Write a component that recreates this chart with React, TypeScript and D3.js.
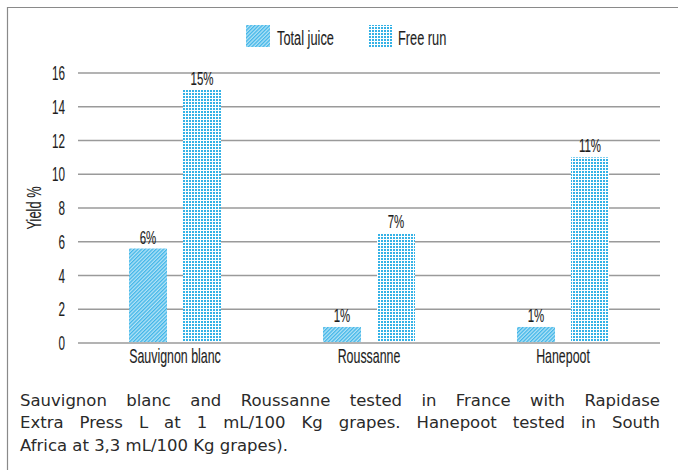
import React, { useMemo } from "react";
import * as d3 from "d3";

const categories = ["Sauvignon blanc", "Roussanne", "Hanepoot"];
const series = ["Total juice", "Free run"];
const totalJuice = [5.6, 0.95, 0.95];
const freeRun = [15.0, 6.5, 11.0];
const totalLabels = ["6%", "1%", "1%"];
const freeLabels = ["15%", "7%", "11%"];
const yTicks = [0, 2, 4, 6, 8, 10, 12, 14, 16];
const captionLines = [
  "Sauvignon blanc and Roussanne tested in France with Rapidase",
  "Extra Press L at 1 mL/100 Kg grapes. Hanepoot tested in South",
  "Africa at 3,3 mL/100 Kg grapes).",
];

const W = 678;
const H = 470;
const labelFont = "'Liberation Sans', Arial, sans-serif";
const captionFont = "'DejaVu Sans', sans-serif";
const blue = "#35b2e6";

// condensed text: the reference uses a narrow face, so squeeze a regular one
const CText = ({ x, y, size, anchor = "start", sx = 0.64, children }: any) => (
  <text transform={`translate(${x},${y}) scale(${sx},1)`} textAnchor={anchor}
    fontFamily={labelFont} fontSize={size} fill="#1e1e1e" stroke="#1e1e1e" strokeWidth={0.12}>{children}</text>
);

const App = () => {
  const margin = { left: 78, right: 18, top: 73, bottom: 127 };
  const plotRight = W - margin.right;
  const plotBottom = H - margin.bottom;

  const x = d3.scaleBand().domain(categories).range([margin.left, plotRight]);
  const xSub = d3.scaleBand().domain(series).range([0, 92]).paddingInner(0.296);
  const y = d3.scaleLinear().domain([0, 16]).range([plotBottom, margin.top]);

  const capSize = 16.5;
  const capLeft = 20;
  const capRight = 660;

  // justify caption lines by measuring words
  const caption = useMemo(() => {
    const ctx = document.createElement("canvas").getContext("2d");
    ctx.font = `${capSize}px ${captionFont}`;
    return captionLines.map((line, i) => {
      const words = line.split(" ");
      const widths = words.map(w => ctx.measureText(w).width);
      const total = d3.sum(widths);
      const isLast = i === captionLines.length - 1;
      const gap = isLast ? ctx.measureText(" ").width : (capRight - capLeft - total) / (words.length - 1);
      let cx = capLeft;
      return words.map((w, j) => {
        const pos = cx;
        cx += widths[j] + gap;
        return { w, x: pos };
      });
    });
  }, []);

  const groupX = (c: string) => x(c)! + x.bandwidth() / 2 - 46;

  return (
    <svg width={W} height={H} style={{ position: "absolute", left: 0, top: 0 }}>
      <defs>
        <pattern id="hatch" width="2.6" height="2.6" patternUnits="userSpaceOnUse" patternTransform="rotate(45)">
          <rect width="2.6" height="2.6" fill="#b5e3f6" />
          <rect width="1.3" height="2.6" fill="#3fb5e8" />
        </pattern>
        <pattern id="dots" width="3" height="3" patternUnits="userSpaceOnUse">
          <rect width="3" height="3" fill="#ffffff" />
          <rect width="2" height="2" fill={blue} />
        </pattern>
      </defs>
      <rect width={W} height={H} fill="#fff" />
      {/* frame */}
      <path d={`M7.5,${H} V7.5 H${W}`} fill="none" stroke="#8a8a8a" strokeWidth={1.2} />

      {/* legend */}
      <rect x={246} y={25} width={24} height={22} fill="url(#hatch)" />
      <CText x={277} y={45} size={20}>{series[0]}</CText>
      <rect x={368} y={25} width={24} height={22} fill="url(#dots)" />
      <CText x={398} y={45} size={20}>{series[1]}</CText>

      {/* grid */}
      {yTicks.map(t => (
        <g key={t}>
          <line x1={margin.left} x2={plotRight} y1={y(t)} y2={y(t)} stroke="#9a9a9a" strokeWidth={1.4} />
          <CText x={65} y={y(t) + 7} size={19.5} anchor="end" sx={0.6}>{t}</CText>
        </g>
      ))}
      <text transform={`translate(41,${(y(0) + y(16)) / 2}) rotate(-90) scale(0.66,1)`} textAnchor="middle"
        fontFamily={labelFont} fontSize={19.5} fill="#1e1e1e" stroke="#1e1e1e" strokeWidth={0.12}>Yield %</text>

      {/* bars */}
      {categories.map((c, i) => {
        const gx = groupX(c);
        const tx = gx + xSub(series[0])!;
        const fx = gx + xSub(series[1])!;
        const bw = xSub.bandwidth();
        return (
          <g key={c}>
            <rect x={tx} y={y(totalJuice[i])} width={bw} height={y(0) - y(totalJuice[i]) - 1} fill="url(#hatch)" />
            <rect x={fx} y={y(freeRun[i])} width={bw} height={y(0) - y(freeRun[i]) - 1} fill="url(#dots)" />
            <CText x={tx + bw / 2} y={y(totalJuice[i]) - 5} size={18.5} anchor="middle" sx={0.62}>{totalLabels[i]}</CText>
            <CText x={fx + bw / 2} y={y(freeRun[i]) - 5} size={18.5} anchor="middle" sx={0.62}>{freeLabels[i]}</CText>
            <CText x={x(c)! + x.bandwidth() / 2} y={363} size={20} anchor="middle" sx={0.62}>{c}</CText>
          </g>
        );
      })}

      {/* caption */}
      {caption.map((words, i) => (
        <g key={i}>
          {words.map((d, j) => (
            <text key={j} x={d.x} y={405.5 + i * 22.5} fontFamily={captionFont} fontSize={capSize} fill="#2a2a2a">{d.w}</text>
          ))}
        </g>
      ))}
    </svg>
  );
};

export default App;
